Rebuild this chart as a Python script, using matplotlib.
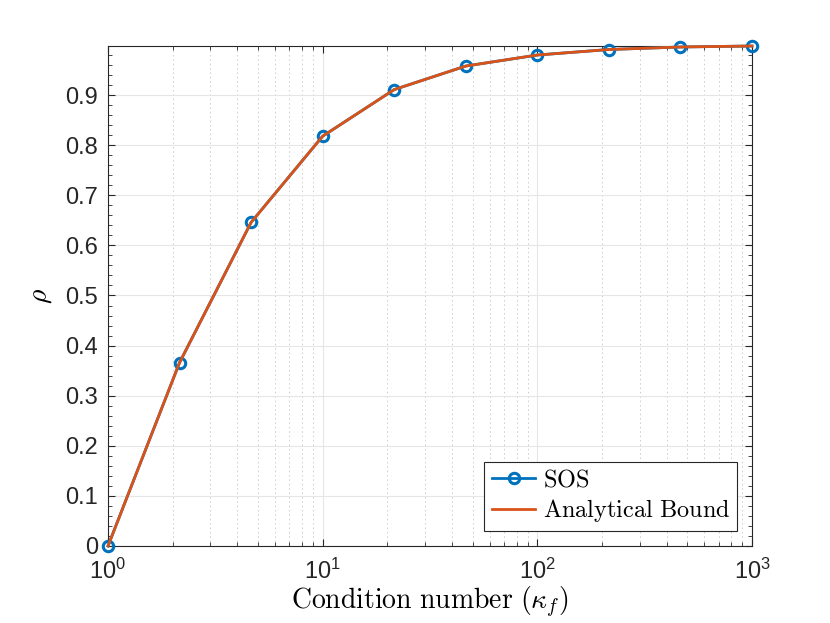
import numpy as np
import matplotlib.pyplot as plt
from matplotlib.ticker import MultipleLocator, LogLocator, NullFormatter

plt.rcParams['mathtext.fontset'] = 'cm'
plt.rcParams['font.family'] = ['Liberation Sans', 'DejaVu Sans']

kappa = [1.0, 2.154, 4.642, 10.0, 21.54, 46.42, 100.0, 215.4, 464.2, 1000.0]
rho_sos = [0.0, 0.366, 0.646, 0.818, 0.911, 0.958, 0.980, 0.991, 0.996, 0.998]
rho_bound = [0.0, 0.366, 0.646, 0.818, 0.911, 0.958, 0.980, 0.991, 0.996, 0.998]

fig = plt.figure(figsize=(8.3, 6.23), dpi=100)
ax = fig.add_axes([108/830, 77/623, 644/830, 500/623])

ax.semilogx(kappa, rho_sos, '-o', color='#0072BD', lw=2, ms=7.5, mfc='none',
            mew=2.2, label='SOS', zorder=3, clip_on=False)
ax.semilogx(kappa, rho_bound, '-', color='#D95319', lw=2, label='Analytical Bound',
            zorder=4, clip_on=False)

ax.set_xlim(1, 1000)
ax.set_ylim(0, 0.998)
ax.yaxis.set_minor_locator(MultipleLocator(0.02))
ax.xaxis.set_minor_locator(LogLocator(base=10, subs=np.arange(2, 10)))
ax.xaxis.set_minor_formatter(NullFormatter())
ax.set_yticks(np.round(np.arange(0, 1.0, 0.1), 1))
ax.set_yticklabels(['0'] + ['%.1f' % v for v in np.arange(0.1, 1.0, 0.1)])

ax.grid(True, which='major', color='#e6e6e6', lw=0.8)
ax.grid(True, which='minor', axis='x', color='#cccccc', lw=0.7, ls=(0, (1.5, 3)))
ax.set_axisbelow(True)

ax.tick_params(which='both', direction='in', top=True, right=True, colors='#262626',
               labelsize=17)
ax.tick_params(axis='x', which='major', pad=9)
ax.tick_params(axis='y', which='major', pad=7)
ax.tick_params(which='major', length=5)
ax.tick_params(which='minor', length=3)
for s in ax.spines.values():
    s.set_color('#262626')
    s.set_linewidth(0.8)

ax.set_xlabel(r'$\mathrm{Condition\ number\ }(\kappa_f)$', fontsize=20, labelpad=1)
ax.set_ylabel(r'$\rho$', fontsize=20, labelpad=8)

leg = ax.legend(loc='lower right', fancybox=False, framealpha=1,
                edgecolor='#262626', borderaxespad=0.6, handlelength=1.8,
                handletextpad=0.3, labelspacing=0.25, borderpad=0.3,
                prop={'size': 17.5})
for t in leg.get_texts():
    t.set_text(r'$\mathrm{%s}$' % t.get_text().replace(' ', r'\ '))
leg.get_frame().set_linewidth(0.8)

fig.savefig('out.png', dpi=100)
